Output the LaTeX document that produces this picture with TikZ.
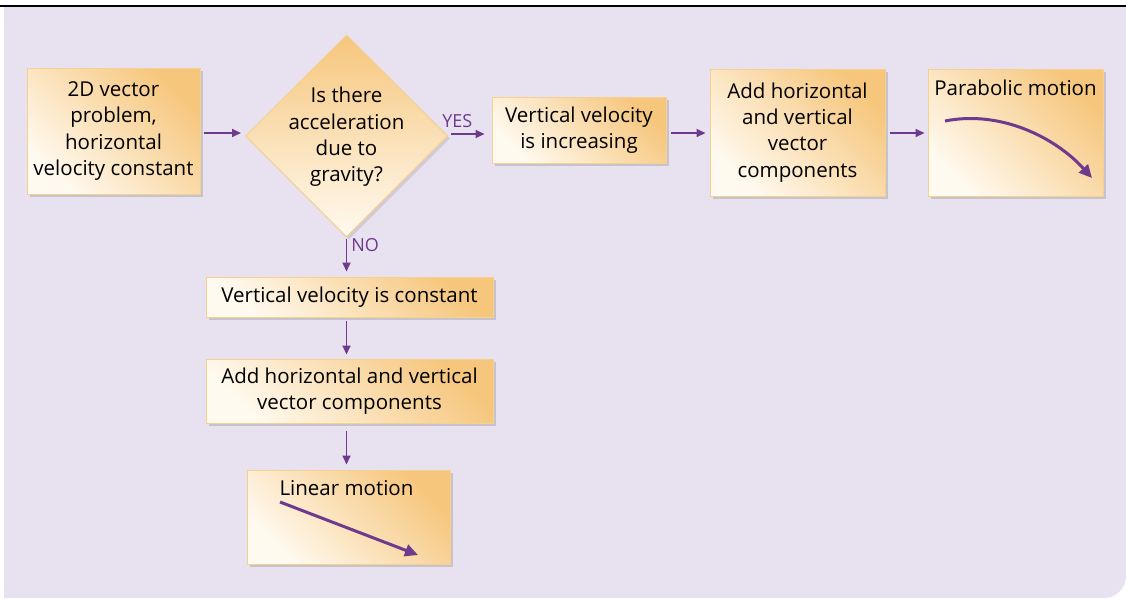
\documentclass[tikz,border=0pt]{standalone}
\usepackage{fontspec}
\setmainfont{Open Sans}
\usetikzlibrary{shapes.geometric,arrows.meta,shadows,calc}
\definecolor{bglav}{HTML}{E8E1EF}
\definecolor{boxorange}{HTML}{F6C67C}
\definecolor{boxcream}{HTML}{FFFAF0}
\definecolor{boxedge}{HTML}{F5D08F}
\definecolor{flowpurple}{HTML}{6E3A8E}
\tikzset{
  boxfont/.style={font=\fontsize{20.5}{26.3}\selectfont},
  stepbox/.style={draw=boxedge, line width=1pt, top color=boxorange, bottom color=boxcream,
    shading angle=-45, align=center, inner sep=0pt, boxfont,
    drop shadow={shadow xshift=2.5pt, shadow yshift=-2.5pt, fill=black!45, opacity=0.35}},
  flow/.style={draw=flowpurple, line width=1.8pt, -{Triangle[length=9pt,width=8pt]}},
  flowlabel/.style={text=flowpurple, font=\fontsize{18}{20}\selectfont, inner sep=1pt},
  motion/.style={draw=flowpurple, line width=3pt, -{Triangle[length=13pt,width=12pt]}},
}
\begin{document}
\begin{tikzpicture}[x=1pt,y=-1pt]
\useasboundingbox (0,0) rectangle (1126,598);
% panel background with rounded lower right corner
\fill[bglav] (4,7) -- (1126,7) -- (1126,576) arc[start angle=0,end angle=90,radius=22] -- (4,598) -- cycle;
\draw[black, line width=1.3pt] (0,6) -- (1126,6);

% top row
\node[stepbox, minimum width=173pt, minimum height=126pt] (start) at (113.5,131)
  {2D vector\\problem,\\horizontal\\velocity constant};
\node[draw=boxedge, line width=1pt, diamond, aspect=1, minimum size=202pt, inner sep=0pt,
  top color=boxorange, bottom color=boxcream,
  drop shadow={shadow xshift=2.5pt, shadow yshift=-2.5pt, fill=black!45, opacity=0.25}]
  (q) at (346.5,136) {};
\node[align=center, boxfont] (qtext) at ($(q.center)+(0,1)$)
  {Is there\\acceleration\\due to\\gravity?};
\node[stepbox, minimum width=174pt, minimum height=66pt] (inc) at (579,130)
  {Vertical velocity\\is increasing};
\node[stepbox, minimum width=175pt, minimum height=127pt] (addr) at (797.5,132.5)
  {Add horizontal\\and vertical\\vector\\components};
\node[stepbox, minimum width=175pt, minimum height=127pt] (para) at (1015.5,132.5) {};
\node[boxfont, anchor=north] (paratext) at ($(para.north)+(0,8)$) {Parabolic motion};
\coordinate (pa) at (945,121);
\coordinate (pb) at (1092,178);
\draw[motion] (pa) .. controls (1000,110) and (1055,137) .. (pb);

% lower column
\node[stepbox, minimum width=287pt, minimum height=40pt] (const) at (349.5,297)
  {Vertical velocity is constant};
\node[stepbox, minimum width=287pt, minimum height=64pt] (addl) at (349.5,391)
  {Add horizontal and vertical\\vector components};
\node[stepbox, minimum width=203pt, minimum height=94pt] (lin) at (348.5,517) {};
\node[boxfont, anchor=north] (lintext) at ($(lin.north)+(-2,7)$) {Linear motion};
\coordinate (la) at (280,502);
\coordinate (lb) at (418,555);
\draw[motion] (la) -- (lb);

% connectors
\draw[flow, shorten <=3pt, shorten >=4pt] (start.east |- 0,133) -- (q.west |- 0,133);
\draw[flow, shorten <=3pt, shorten >=7pt] (q.east |- 0,134) -- (inc.west |- 0,134)
  node[flowlabel, pos=0.1, anchor=south west, yshift=4pt, xshift=-12pt] {YES};
\draw[flow, shorten <=4pt, shorten >=4pt] (inc.east |- 0,133) -- (addr.west |- 0,133);
\draw[flow, shorten <=4pt, shorten >=3pt] (addr.east |- 0,133) -- (para.west |- 0,133);
\draw[flow, shorten <=1pt, shorten >=5pt] (q.south) -- (q.south |- const.north)
  node[flowlabel, pos=0.2, anchor=west, xshift=3pt] {NO};
\draw[flow, shorten <=3pt, shorten >=4pt] (q.south |- const.south) -- (q.south |- addl.north);
\draw[flow, shorten <=7pt, shorten >=5pt] (q.south |- addl.south) -- (q.south |- lin.north);
\end{tikzpicture}
\end{document}
